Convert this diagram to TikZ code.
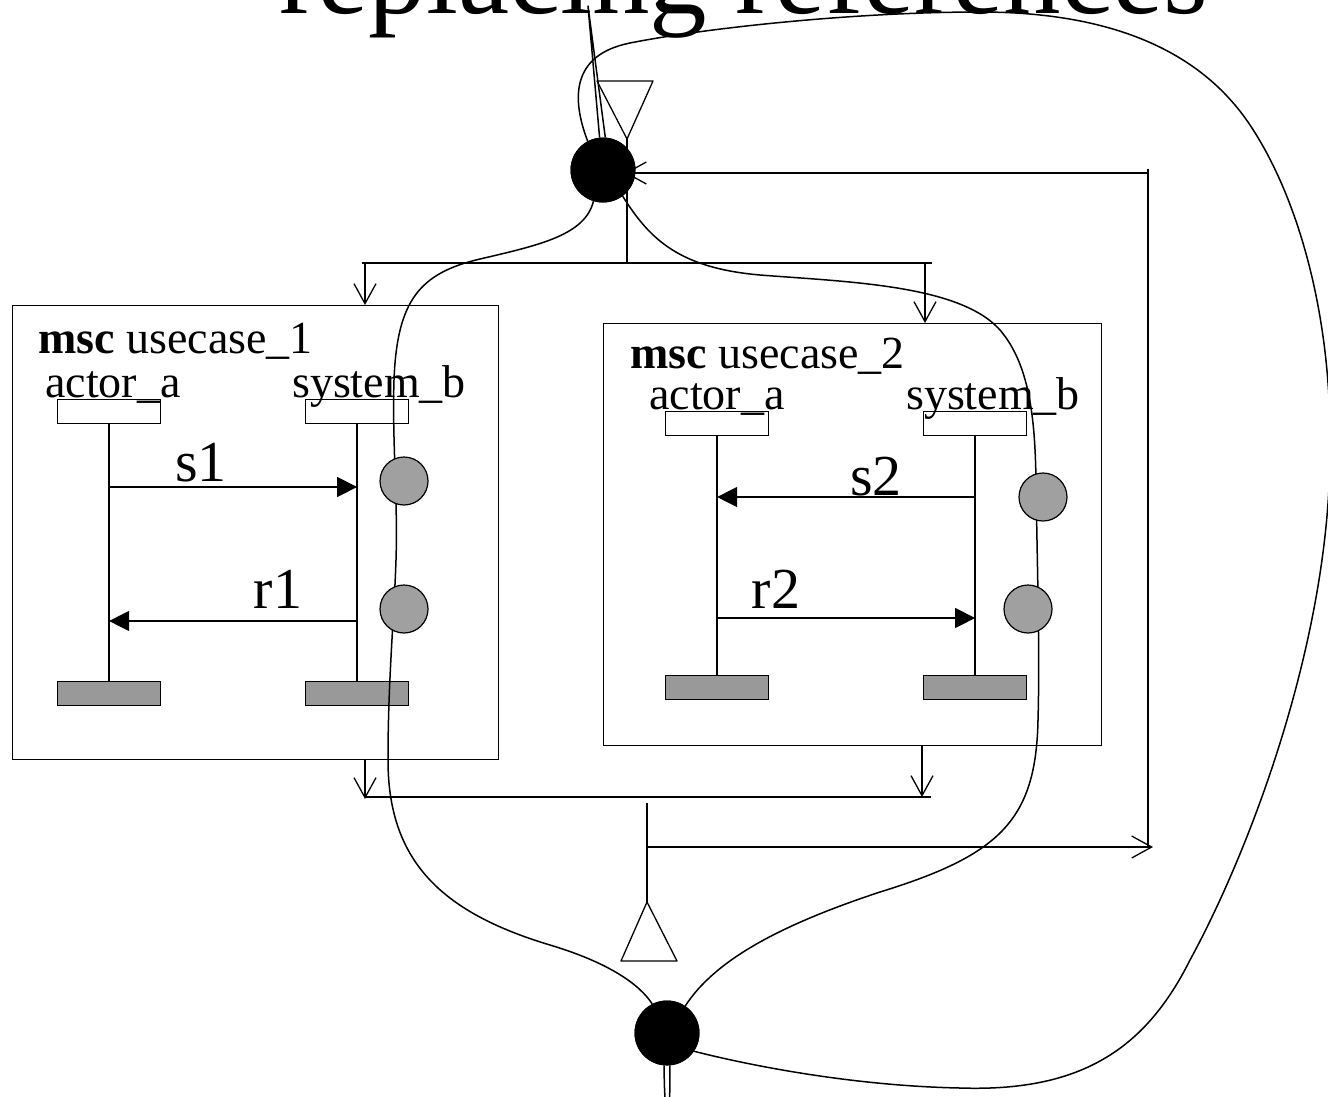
\documentclass[tikz,border=0pt]{standalone}
\usepackage{fontspec}
\setmainfont{Liberation Serif}
\usetikzlibrary{arrows.meta,calc}

\definecolor{bargrey}{RGB}{153,153,153}
\definecolor{dotgrey}{RGB}{160,160,160}

\tikzset{
  frame/.style={draw, line width=1.3pt, inner sep=0, anchor=north west},
  headbox/.style={draw, fill=white, line width=1.2pt, inner sep=0, anchor=north west,
                  minimum width=103pt, minimum height=24pt},
  endbar/.style={draw, fill=bargrey, line width=1.2pt, inner sep=0, anchor=north west,
                 minimum width=103pt, minimum height=24pt},
  lifeline/.style={line width=1.3pt},
  msg/.style={line width=1.3pt, -{Triangle[length=20pt,width=20pt]}},
  flow/.style={line width=1.3pt},
  flowarrow/.style={line width=1.3pt, -{Straight Barb[length=20pt,width=22pt]}},
  trace/.style={line width=1.5pt, line join=round},
  statedot/.style={circle, draw, fill=dotgrey, line width=1.2pt, minimum size=48pt, inner sep=0},
  junction/.style={circle, fill=black, minimum size=65pt, inner sep=0},
  lbl/.style={inner sep=0, anchor=base west, font=\fontsize{46}{50}\selectfont},
  msglbl/.style={inner sep=0, anchor=base, font=\fontsize{58}{62}\selectfont},
}

\begin{document}
\begin{tikzpicture}[x=1pt, y=-1pt]
\useasboundingbox (0,0) rectangle (1328,1096);

% heading
\node[inner sep=0, anchor=base west, font=\fontsize{115}{120}\selectfont] (title) at (279,13) {replacing references};

% ---- msc usecase_1 ----
\node[frame, minimum width=486pt, minimum height=454pt] (box1) at (12,305) {};
\node[lbl] (b1name) at (38,353) {\textbf{msc} usecase\_1};
\node[headbox] (a1h) at (57,399) {};
\node[headbox] (s1h) at (305,399) {};
\node[lbl] (a1t) at (45,397) {actor\_a};
\node[lbl] (s1t) at (292,397) {system\_b};
\node[endbar] (a1e) at (57,681) {};
\node[endbar] (s1e) at (305,681) {};
\draw[lifeline] (a1h.south) -- (a1e.north);
\draw[lifeline] (s1h.south) -- (s1e.north);
\draw[msg] (a1h.south |- 0,487) -- (s1h.south |- 0,487);
\draw[msg] (s1h.south |- 0,621) -- (a1h.south |- 0,621);
\node[msglbl] (s1l) at (201,481) {s1};
\node[msglbl] (r1l) at (278,608) {r1};

% ---- msc usecase_2 ----
\node[frame, minimum width=498pt, minimum height=422pt] (box2) at (603,323) {};
\node[lbl] (b2name) at (630,368) {\textbf{msc} usecase\_2};
\node[headbox] (a2h) at (665,411) {};
\node[headbox] (s2h) at (923,411) {};
\node[lbl] (a2t) at (649,409) {actor\_a};
\node[lbl] (s2t) at (906,409) {system\_b};
\node[endbar] (a2e) at (665,675) {};
\node[endbar] (s2e) at (923,675) {};
\draw[lifeline] (a2h.south) -- (a2e.north);
\draw[lifeline] (s2h.south) -- (s2e.north);
\draw[msg] (s2h.south |- 0,497) -- (a2h.south |- 0,497);
\draw[msg] (a2h.south |- 0,618) -- (s2h.south |- 0,618);
\node[msglbl] (s2l) at (876,495) {s2};
\node[msglbl] (r2l) at (776,608) {r2};

% ---- control flow: start, fork, join, loop back ----
\coordinate (tapex) at (627,139);
\draw[flow, line join=round] (597,81) -- (653,81) -- (tapex) -- cycle;
\coordinate (fork) at (627,263);
\draw[flow] (tapex) -- (fork);
\draw[flow] (362,263) -- (932,263);
\coordinate (f1) at (365,263);
\coordinate (f2) at (925,263);
\draw[flowarrow] (f1) -- (f1 |- box1.north);
\draw[flowarrow] (f2) -- (f2 |- box2.north);

\coordinate (j1) at (365,759);
\coordinate (j2) at (922,745);
\draw[flowarrow] (j1) -- (365,799);
\draw[flowarrow] (j2) -- (922,797);
\draw[flow] (365,797) -- (931,797);

\coordinate (join) at (647,803);
\coordinate (bapex) at (647,902);
\draw[flow] (join) -- (bapex);
\draw[flow, line join=round] (bapex) -- (677,961) -- (621,961) -- cycle;
\coordinate (loopdown) at (1148,847);
\coordinate (loopup) at (1148,169);
\draw[flowarrow] (join |- loopdown) -- (1153,847);
\draw[flow] (loopup) -- (loopdown);
\draw[flowarrow] (1148,173) -- (625,173);

% ---- traces through both charts ----
\node[junction] (topc) at (603,170) {};
\node[junction] (botc) at (667,1033) {};

\draw[trace] (topc.118) .. controls (572,100) and (570,55) .. (630,43)
  .. controls (700,29) and (850,12) .. (980,12)
  .. controls (1110,12) and (1200,50) .. (1250,125)
  .. controls (1300,200) and (1332,320) .. (1330,450)
  .. controls (1330,640) and (1250,850) .. (1190,960)
  .. controls (1145,1050) and (1080,1092) .. (960,1088)
  .. controls (860,1086) and (760,1068) .. (botc.-34);

\draw[trace] (topc.253) .. controls (585,235) and (540,245) .. (480,259)
  .. controls (420,273) and (397,300) .. (394,380)
  .. controls (392,440) and (398,500) .. (396,560)
  .. controls (394,620) and (388,680) .. (388,760)
  .. controls (388,860) and (440,912) .. (550,945)
  .. controls (610,963) and (640,985) .. (botc.117);

\draw[trace] (topc.-53) .. controls (650,240) and (680,268) .. (760,275)
  .. controls (850,282) and (960,285) .. (1000,330)
  .. controls (1030,365) and (1035,420) .. (1036,480)
  .. controls (1037,560) and (1040,650) .. (1038,720)
  .. controls (1036,820) and (1000,855) .. (880,892)
  .. controls (780,925) and (715,960) .. (botc.56);

\draw[trace] (topc.96) -- (588,6) -- (topc.86);
\draw[trace] (botc.-95) .. controls (664,1125) and (671,1125) .. (botc.-85);

% state markers on the system_b lifelines
\node[statedot] (d11) at (404,481) {};
\node[statedot] (d12) at (404,609) {};
\node[statedot] (d21) at (1043,497) {};
\node[statedot] (d22) at (1028,609) {};

% junction points drawn on top of the incoming lines
\node[junction] at (topc) {};
\node[junction] at (botc) {};
\end{tikzpicture}
\end{document}
